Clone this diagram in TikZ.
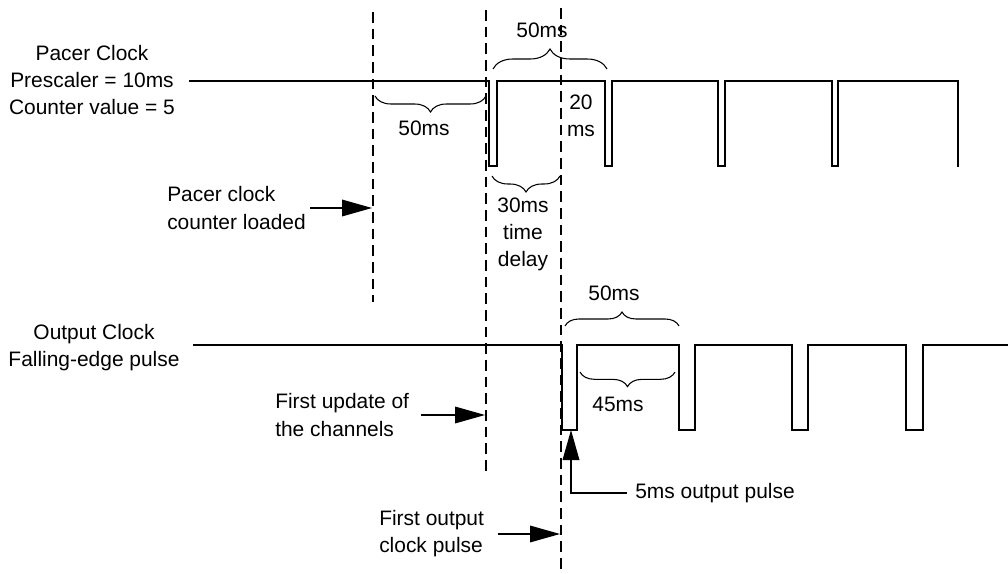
\documentclass[tikz,border=0pt]{standalone}
\usepackage{fontspec}
\setmainfont{Liberation Sans}
\usetikzlibrary{arrows.meta,decorations.pathreplacing}
\begin{document}
\begin{tikzpicture}[x=0.75pt,y=-0.75pt,
  wave/.style={line width=0.9pt, line join=miter},
  guide/.style={line width=0.8pt, dash pattern=on 8pt off 4.5pt},
  lbl/.style={font=\fontsize{15.7}{20.3}\selectfont, align=center, inner sep=0pt},
  lbll/.style={lbl, align=left},
  pointer/.style={line width=0.9pt, -{Triangle[length=22.5pt,width=12.5pt]}},
  brc/.style={decorate, decoration={brace, amplitude=#1}, line width=0.8pt},
]
\useasboundingbox (0,0) rectangle (1008,574);

% dashed guide lines
\draw[guide] (373,12) coordinate (g1t) -- (373,302) coordinate (g1b);
\draw[guide] (486,10) coordinate (g2t) -- (486,472) coordinate (g2b);
\draw[guide] (561,8) coordinate (g3t) -- (561,574) coordinate (g3b);

% pacer clock waveform
\draw[wave] (189,81) -- (489,81) -- (489,166) -- (497,166) -- (497,81)
  -- (605,81) -- (605,166) -- (612,166) -- (612,81)
  -- (718,81) -- (718,166) -- (725,166) -- (725,81)
  -- (832,81) -- (832,166) -- (838,166) -- (838,81)
  -- (958,81) -- (958,167);

% output clock waveform
\draw[wave] (193,345) -- (562,345) -- (562,430) -- (577,430) -- (577,345)
  -- (679,345) -- (679,430) -- (695,430) -- (695,345)
  -- (792,345) -- (792,430) -- (808,430) -- (808,345)
  -- (906,345) -- (906,430) -- (923,430) -- (923,345)
  -- (1008,345);

% braces
\draw[brc=15pt] (493,69) -- (607,69);
\draw[brc=12pt] (486,96) -- (375,96);
\draw[brc=12pt] (560,176) -- (492,176);
\draw[brc=10.5pt] (565,326) -- (679,326);
\draw[brc=11pt] (675,372) -- (580,372);

% brace labels
\node[lbl] (b1) at (424,128) {50ms};
\node[lbl] (b2) at (542,30) {50ms};
\node[lbl] (b3) at (581,116) {20\\ms};
\node[lbl] (b4) at (523,234) {30ms\\time\\delay};
\node[lbl] (b5) at (614,293) {50ms};
\node[lbl] (b6) at (618,404) {45ms};

% signal names
\node[lbl] (pacer) at (92,80) {Pacer Clock\\Prescaler = 10ms\\Counter value = 5};
\node[lbl] (outclk) at (94,348) {Output Clock\\Falling-edge pulse};

% annotations with arrows
\node[lbll, anchor=west] (pcl) at (167,208) {Pacer clock\\counter loaded};
\coordinate (pclTip) at (372,208);
\draw[pointer, shorten <=3pt] (pcl.east) -- (pclTip);

\node[lbll, anchor=west] (fu) at (275,415) {First update of\\the channels};
\coordinate (fuTip) at (485,415);
\draw[pointer, shorten <=9pt] (fu.east) -- (fuTip);

\node[lbll, anchor=west] (fo) at (379,534) {First output\\clock pulse};
\coordinate (foTip) at (560,534);
\draw[pointer, shorten <=10pt] (fo.east) -- (foTip);

\node[lbl, anchor=west] (op) at (635,493) {5ms output pulse};
\coordinate (opCorner) at (571,493);
\coordinate (opTip) at (571,430);
\draw[pointer, shorten <=6pt] (op.west) -- (opCorner) -- (opTip);
\end{tikzpicture}
\end{document}
